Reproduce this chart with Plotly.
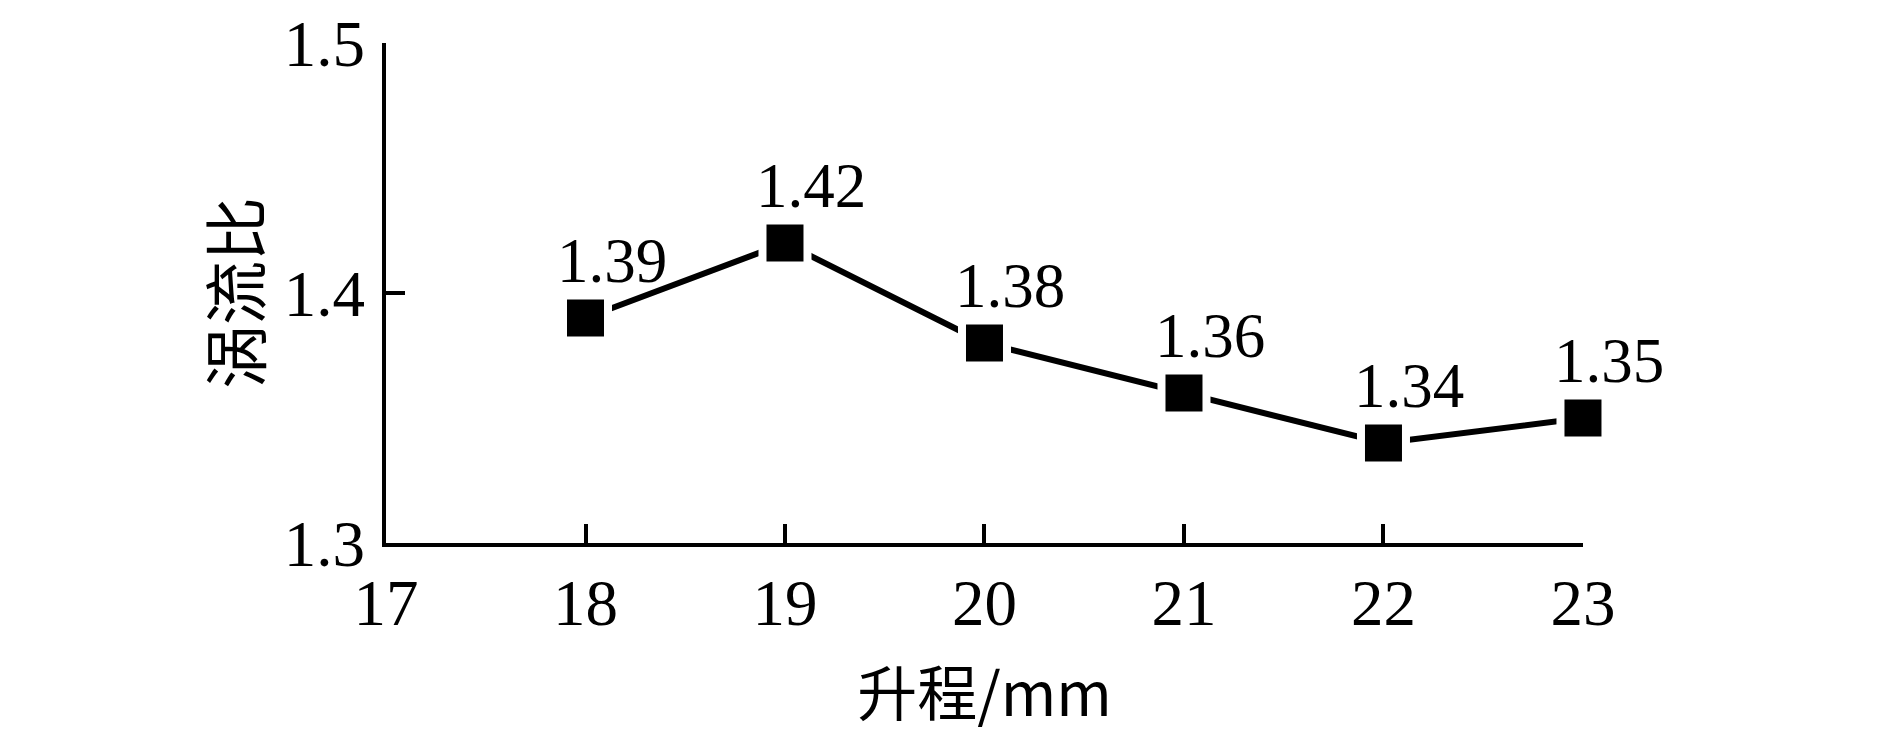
import plotly.graph_objects as go

lift_mm = [18, 19, 20, 21, 22, 23]
swirl_ratio = [1.39, 1.42, 1.38, 1.36, 1.34, 1.35]
x_ticks = [17, 18, 19, 20, 21, 22, 23]
y_ticks = [1.3, 1.4, 1.5]

SERIF = "Liberation Serif, Times New Roman, serif"
CJK = "Noto Sans CJK SC"

fig = go.Figure()
fig.add_scatter(
    x=lift_mm,
    y=swirl_ratio,
    mode="lines+markers",
    line={"color": "black", "width": 6},
    # white outline leaves the small gap between line and marker seen in the original
    marker={"symbol": "square", "size": 45, "color": "black", "line": {"color": "white", "width": 8}},
    cliponaxis=False,
    showlegend=False,
)

for x, y in zip(lift_mm, swirl_ratio):
    fig.add_annotation(
        x=x, y=y, text=f"{y:.2f}", showarrow=False,
        xshift=26, yshift=57, font={"family": SERIF, "size": 63, "color": "black"},
    )

axis_common = dict(
    showline=True, linecolor="black", linewidth=4,
    ticks="inside", ticklen=19, tickwidth=4, tickcolor="black",
    showgrid=False, zeroline=False, automargin=False,
    tickfont={"family": SERIF, "size": 65, "color": "black"},
)

fig.update_xaxes(
    range=[17, 23.0001], tickvals=x_ticks, ticktext=[str(v) for v in x_ticks],
    title={"text": "升程/mm", "font": {"family": CJK, "size": 60, "color": "black"}, "standoff": 37},
    **axis_common,
)
fig.update_yaxes(
    range=[1.3, 1.50005], tickvals=y_ticks, ticktext=[f"{v:.1f}" for v in y_ticks],
    ticklabelstandoff=4,
    title={"text": "涡流比", "font": {"family": CJK, "size": 64, "color": "black"}, "standoff": 3},
    **axis_common,
)

fig.update_layout(
    width=1890, height=746,
    margin={"l": 386, "r": 307, "t": 43, "b": 203},
    plot_bgcolor="white", paper_bgcolor="white",
)

# drop the default 8px body margin so the figure sits flush with the window
fig.write_html(
    "out.html",
    config={"displayModeBar": False},
    post_script="document.body.style.margin='0';",
)
